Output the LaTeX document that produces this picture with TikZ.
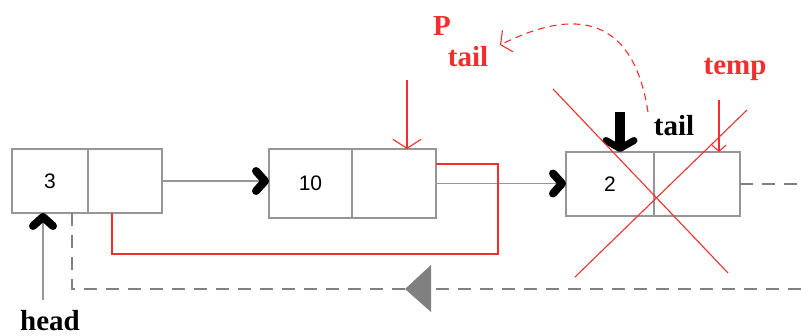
\documentclass[tikz,border=0pt]{standalone}
\usepackage{fontspec}
\setmainfont{Liberation Serif}
\newfontfamily\numfont{Liberation Sans}
\usetikzlibrary{arrows.meta,positioning}
\definecolor{boxgray}{RGB}{150,150,150}
\definecolor{dashgray}{RGB}{128,128,128}
\definecolor{penred}{RGB}{245,45,45}
\tikzset{
  cell/.style={draw=boxgray, line width=1.3pt, inner sep=0pt, outer sep=0pt, font=\numfont\fontsize{21}{22}\selectfont},
  blob/.style={-{Straight Barb[color=black,length=9pt,width=20pt,line width=8pt,round]}},
  nextlink/.style={draw=boxgray, line width=1.3pt, blob},
  backlink/.style={draw=dashgray, line width=1.3pt, dash pattern=on 13pt off 9pt},
  redwire/.style={draw=penred, line width=1.6pt},
  redpen/.style={draw=penred, line width=1.1pt},
  redptr/.style={redpen, -{Straight Barb[length=9pt,width=28pt]}},
  lbl/.style={font=\bfseries\fontsize{29}{30}\selectfont, inner sep=0pt, anchor=base},
}
\begin{document}
\begin{tikzpicture}[x=1pt,y=-1pt]
  \useasboundingbox (0,0) rectangle (801,335);
  % list cells
  \node[cell, minimum width=76pt, minimum height=64pt] (n1d) at (50,181) {3};
  \node[cell, minimum width=74pt, minimum height=64pt, right=0pt of n1d] (n1p) {};
  \node[cell, minimum width=83pt, minimum height=69pt] (n2d) at (310.5,183.5) {10};
  \node[cell, minimum width=84pt, minimum height=69pt, right=0pt of n2d] (n2p) {};
  \node[cell, minimum width=88pt, minimum height=64pt] (n3d) at (610,184) {2};
  \node[cell, minimum width=86pt, minimum height=64pt, right=0pt of n3d] (n3p) {};
  % labels
  \node[lbl] (head) at (50,330) {head};
  \node[lbl] (tail) at (674,135) {tail};
  \node[lbl, text=penred] (plbl) at (442,35) {P};
  \node[lbl, text=penred] (ptail) at (468,66) {tail};
  \node[lbl, text=penred] (temp) at (735,74) {temp};
  % next links
  \draw[nextlink] (n1p.east) -- (n1p.east -| n2d.west);
  \draw[nextlink] (n2p.east) -- (n2p.east -| n3d.west);
  \coordinate (farright) at (801,182);
  \draw[backlink] (n3p.east) -- (n3p.east -| farright);
  % back link
  \coordinate (backstart) at ([xshift=22pt]n1d.south);
  \coordinate (backend) at (801,289);
  \draw[backlink] (backstart) |- (backend);
  \fill[dashgray] (405,289) -- (431,265) -- (431,312) -- cycle;
  % head pointer
  \coordinate (hfrom) at (43,300);
  \draw[nextlink] (hfrom) -- (hfrom |- n1d.south);
  % red rewired link
  \draw[redwire] ([xshift=-13pt]n1p.south) -- ++(0,41) -| (498,164) -- ([yshift=19.5pt]n2p.east);
  \coordinate (pfrom) at (407,80);
  \draw[redptr] (pfrom) -- (pfrom |- n2p.north);
  % tail pointer
  \coordinate (tfrom) at (620,112);
  \draw[line width=10pt, -{Straight Barb[length=8pt,width=28pt,line width=7pt,round]}] (tfrom) -- (tfrom |- n3d.north);
  \coordinate (cstart) at (648,112);
  \coordinate (cend) at (500,45);
  \draw[redpen, dash pattern=on 7pt off 5pt, -{Straight Barb[length=8pt,width=24pt]}] (cstart) .. controls (630,-5) and (550,20) .. (cend);
  % temp pointer
  \coordinate (tmpfrom) at (719,100);
  \draw[redpen, -{Straight Barb[length=6pt,width=14pt]}] (tmpfrom) -- (tmpfrom |- n3p.north);
  % crossed out node
  \draw[redpen] (553,89) -- (728,273);
  \draw[redpen] (747,110) -- (575,277);
\end{tikzpicture}
\end{document}
